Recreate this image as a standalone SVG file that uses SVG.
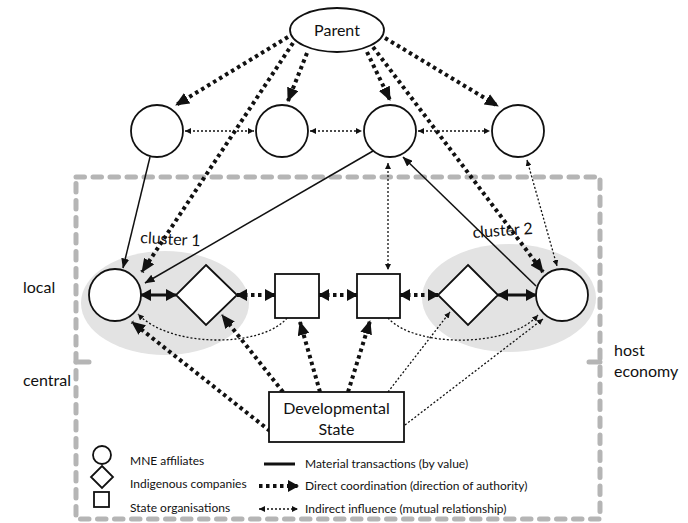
<svg xmlns="http://www.w3.org/2000/svg" width="688" height="523" viewBox="0 0 688 523">
<style>
  text { font-family: Lato, "Open Sans", "Liberation Sans", sans-serif; fill: #111; }
  .node { fill: #fff; stroke: #111; stroke-width: 1.8; }
  .dc { fill: none; stroke: #111; stroke-width: 4; stroke-dasharray: 3.5 3.5; }
  .ii { fill: none; stroke: #111; stroke-width: 1.3; stroke-dasharray: 2 2; }
  .mt { fill: none; stroke: #111; stroke-width: 1.5; }
  .ts { fill: none; stroke: #111; stroke-width: 3.2; }
  .box { fill: none; stroke: #b5b5b5; stroke-width: 5; stroke-dasharray: 8.5 8.5; stroke-linecap: round; }
  .cl { fill: #e3e3e3; }
  .lbl { font-size: 16px; }
  .leg { font-size: 12px; }
</style>
<defs>
  <marker id="big" markerUnits="userSpaceOnUse" viewBox="0 0 14 12" refX="13" refY="6" markerWidth="14" markerHeight="12" orient="auto-start-reverse">
    <path d="M0,0 L14,6 L0,12 z" fill="#111"/>
  </marker>
  <marker id="mid" markerUnits="userSpaceOnUse" viewBox="0 0 11 12" refX="10" refY="6" markerWidth="11" markerHeight="12" orient="auto-start-reverse">
    <path d="M0,0 L11,6 L0,12 z" fill="#111"/>
  </marker>
  <marker id="med" markerUnits="userSpaceOnUse" viewBox="0 0 10 8" refX="9.5" refY="4" markerWidth="10" markerHeight="8" orient="auto-start-reverse">
    <path d="M0,0 L10,4 L0,8 z" fill="#111"/>
  </marker>
  <marker id="sm" markerUnits="userSpaceOnUse" viewBox="0 0 6 6" refX="6" refY="3" markerWidth="6" markerHeight="6" orient="auto-start-reverse">
    <path d="M0,0 L6,3 L0,6 z" fill="#111"/>
  </marker>
</defs>

<g id="host-economy-boundary">
  <rect class="box" x="76" y="177" width="524" height="342"/>
  <path d="M76,362 L89,362 M600,362 L589,362" stroke="#b5b5b5" stroke-width="5" stroke-linecap="round" fill="none"/>
</g>

<g id="clusters">
  <ellipse class="cl" cx="165" cy="303" rx="84" ry="52"/>
  <ellipse class="cl" cx="509" cy="298" rx="87" ry="54"/>
</g>

<g id="connectors">
  <!-- direct coordination: Parent -->
  <path class="dc" d="M288,37 L176,105" marker-end="url(#big)"/>
  <path class="dc" d="M307,53 L288,101" marker-end="url(#big)"/>
  <path class="dc" d="M367,52 L390,100" marker-end="url(#big)"/>
  <path class="dc" d="M385,38 L498,106" marker-end="url(#big)"/>
  <path class="dc" d="M293,43 L142,272" marker-end="url(#big)"/>
  <path class="dc" d="M373,47 L543,272" marker-end="url(#big)"/>
  <!-- direct coordination: Developmental State -->
  <path class="dc" d="M270,431 L132,322" marker-end="url(#big)"/>
  <path class="dc" d="M283,392 L222,315" marker-end="url(#big)"/>
  <path class="dc" d="M320,392 L300,322" marker-end="url(#big)"/>
  <path class="dc" d="M348,392 L370,321" marker-end="url(#big)"/>
  <!-- middle row dotted double arrows -->
  <path class="dc" d="M237,295 L275,295" marker-start="url(#mid)" marker-end="url(#mid)"/>
  <path class="dc" d="M319,295 L357,295" marker-start="url(#mid)" marker-end="url(#mid)"/>
  <path class="dc" d="M400,295 L438,295" marker-start="url(#mid)" marker-end="url(#mid)"/>
  <!-- thick solid double arrows -->
  <path class="ts" d="M141,295 L176,295" marker-start="url(#mid)" marker-end="url(#mid)"/>
  <path class="ts" d="M498,295 L536,295" marker-start="url(#mid)" marker-end="url(#mid)"/>
  <!-- material transactions -->
  <path class="mt" d="M150,157 L123,268" marker-end="url(#med)"/>
  <path class="mt" d="M373,151 L145,283" marker-end="url(#med)"/>
  <path class="mt" d="M536,286 L403,157" marker-end="url(#med)"/>
  <!-- indirect influence -->
  <path class="ii" d="M185,131 L254,131" marker-start="url(#sm)" marker-end="url(#sm)"/>
  <path class="ii" d="M310,131 L362,131" marker-start="url(#sm)" marker-end="url(#sm)"/>
  <path class="ii" d="M418,131 L490,131" marker-start="url(#sm)" marker-end="url(#sm)"/>
  <path class="ii" d="M388,163 L388,270" marker-start="url(#sm)" marker-end="url(#sm)"/>
  <path class="ii" d="M527,160 L557,266" marker-start="url(#sm)" marker-end="url(#sm)"/>
  <path class="ii" d="M287,318 C262,348 170,348 138,314" marker-end="url(#sm)"/>
  <path class="ii" d="M388,318 C415,348 510,348 538,315" marker-end="url(#sm)"/>
  <path class="ii" d="M388,392 L450,312" marker-end="url(#sm)"/>
  <path class="ii" d="M405,425 L543,319" marker-end="url(#sm)"/>
</g>

<g id="parent">
  <ellipse class="node" cx="337" cy="30" rx="47" ry="22"/>
  <text class="lbl" x="337" y="36" text-anchor="middle">Parent</text>
</g>
<g id="affiliate-1"><circle class="node" cx="157" cy="131" r="26"/></g>
<g id="affiliate-2"><circle class="node" cx="282" cy="131" r="26"/></g>
<g id="affiliate-3"><circle class="node" cx="390" cy="131" r="26"/></g>
<g id="affiliate-4"><circle class="node" cx="518" cy="131" r="26"/></g>

<g id="local-affiliate-1"><circle class="node" cx="115" cy="295" r="26"/></g>
<g id="indigenous-1"><polygon class="node" points="206,265 237,295 206,325 176,295"/></g>
<g id="state-org-1"><rect class="node" x="275" y="274" width="44" height="44"/></g>
<g id="state-org-2"><rect class="node" x="357" y="274" width="43" height="44"/></g>
<g id="indigenous-2"><polygon class="node" points="468,265 498,295 468,325 438,295"/></g>
<g id="local-affiliate-2"><circle class="node" cx="562" cy="295" r="26"/></g>

<g id="developmental-state">
  <rect class="node" x="269" y="392" width="135" height="50"/>
  <text class="lbl" x="336.5" y="414" text-anchor="middle">Developmental</text>
  <text class="lbl" x="336.5" y="435" text-anchor="middle">State</text>
</g>

<g id="labels">
  <text class="lbl" x="140" y="243" transform="rotate(3 140 243)">cluster 1</text>
  <text class="lbl" x="473" y="238" transform="rotate(-4 473 238)">cluster 2</text>
  <text class="lbl" x="23" y="293">local</text>
  <text class="lbl" x="23" y="386">central</text>
  <text class="lbl" x="614" y="356">host</text>
  <text class="lbl" x="614" y="377">economy</text>
</g>

<g id="legend">
  <circle class="node" cx="102" cy="455" r="9" stroke-width="1.3"/>
  <polygon class="node" points="102,466 113,477 102,488 91,477" stroke-width="1.3"/>
  <rect class="node" x="94" y="492" width="15" height="15" stroke-width="1.3"/>
  <text class="leg" x="130" y="465">MNE affiliates</text>
  <text class="leg" x="130" y="488">Indigenous companies</text>
  <text class="leg" x="130" y="512">State organisations</text>
  <path d="M264,464 L295,464" stroke="#111" stroke-width="3" fill="none"/>
  <path class="dc" d="M259,486 L298,486" marker-end="url(#mid)"/>
  <path class="ii" d="M259,509 L298,509" marker-start="url(#sm)" marker-end="url(#sm)"/>
  <text class="leg" x="305" y="468">Material transactions (by value)</text>
  <text class="leg" x="305" y="490">Direct coordination (direction of authority)</text>
  <text class="leg" x="305" y="513">Indirect influence (mutual relationship)</text>
</g>
</svg>
